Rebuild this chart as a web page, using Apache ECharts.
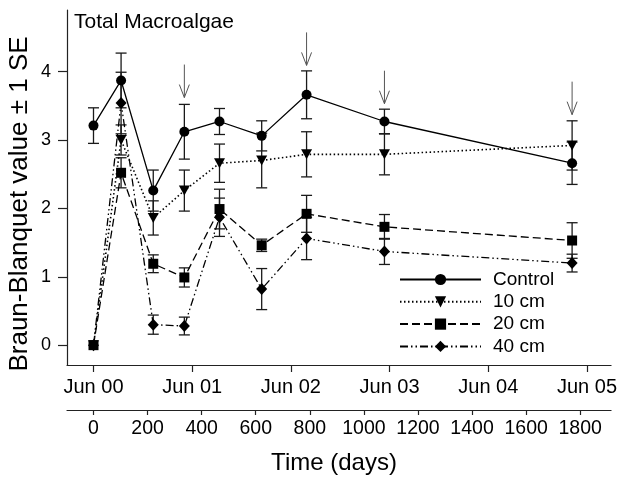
<!DOCTYPE html>
<html>
<head>
<meta charset="utf-8">
<script src="https://cdn.jsdelivr.net/npm/echarts@6/dist/echarts.min.js"></script>
<style>html,body{margin:0;padding:0;background:#fff}#c{width:620px;height:477px}</style>
</head>
<body>
<div id="c"></div>
<script>
// ---- data ----
const days = [0, 102, 221, 336, 466, 622, 788, 1076, 1770];
const seriesNames = ['Control', '10 cm', '20 cm', '40 cm'];
const controlMean = [3.21, 3.87, 2.26, 3.12, 3.27, 3.06, 3.66, 3.27, 2.66];
const controlSE   = [0.26, 0.40, 0.30, 0.40, 0.19, 0.22, 0.35, 0.18, 0.31];
const cm10Mean = [0, 3.00, 1.86, 2.26, 2.66, 2.70, 2.79, 2.79, 2.92];
const cm10SE   = [0, 0.22, 0.25, 0.30, 0.28, 0.40, 0.33, 0.30, 0.36];
const cm20Mean = [0, 2.52, 1.19, 0.99, 1.99, 1.46, 1.92, 1.73, 1.53];
const cm20SE   = [0, 0.22, 0.13, 0.14, 0.29, 0.09, 0.27, 0.18, 0.26];
const cm40Mean = [0, 3.54, 0.30, 0.28, 1.87, 0.82, 1.56, 1.37, 1.20];
const cm40SE   = [0, 0.45, 0.14, 0.13, 0.28, 0.30, 0.31, 0.19, 0.13];
const arrowDays = [336, 788, 1076, 1770];
const arrowTipValue = [3.62, 4.09, 3.53, 3.37];
const junTicks = [0, 365, 730, 1095, 1460, 1825];
const junLabels = ['Jun 00', 'Jun 01', 'Jun 02', 'Jun 03', 'Jun 04', 'Jun 05'];
const dayTicks = [0, 200, 400, 600, 800, 1000, 1200, 1400, 1600, 1800];
const yTicks = [0, 1, 2, 3, 4];

// ---- chart ----
const FONT = "'Liberation Sans', Arial, Helvetica, sans-serif";
const BLACK = '#000';
const chart = echarts.init(document.getElementById('c'), null, {renderer: 'canvas'});

function pairs(m) { return days.map((d, i) => [d, m[i]]); }
function errData(m, s) {
  const out = [];
  days.forEach((d, i) => { if (s[i] > 0) out.push([d, m[i] - s[i], m[i] + s[i]]); });
  return out;
}
function errRender(params, api) {
  const x = api.value(0), lo = api.value(1), hi = api.value(2);
  const p1 = api.coord([x, hi]);
  const p2 = api.coord([x, lo]);
  const hw = 5.5;
  const st = {stroke: '#1a1a1a', lineWidth: 1.3, fill: null};
  return {type: 'group', children: [
    {type: 'line', shape: {x1: p1[0], y1: p1[1], x2: p2[0], y2: p2[1]}, style: st},
    {type: 'line', shape: {x1: p1[0] - hw, y1: p1[1], x2: p1[0] + hw, y2: p1[1]}, style: st},
    {type: 'line', shape: {x1: p2[0] - hw, y1: p2[1], x2: p2[0] + hw, y2: p2[1]}, style: st}
  ]};
}
function arrowRender(params, api) {
  const p = api.coord([api.value(0), api.value(1)]);
  const st = {stroke: '#555', lineWidth: 1, fill: null};
  return {type: 'group', children: [
    {type: 'line', shape: {x1: p[0], y1: p[1] - 33, x2: p[0], y2: p[1]}, style: st},
    {type: 'polyline', shape: {points: [[p[0] - 5, p[1] - 13], [p[0], p[1]], [p[0] + 5, p[1] - 13]]}, style: st}
  ]};
}

const styles = [
  {symbol: 'circle', size: 10, rotate: 0, type: 'solid', width: 1.3},
  {symbol: 'triangle', size: [11, 10], rotate: 180, type: [1.5, 2.5], width: 1.6},
  {symbol: 'rect', size: 10, rotate: 0, type: [8, 4], width: 1.3},
  {symbol: 'diamond', size: [11, 12], rotate: 0, type: [8, 3, 1.5, 3, 1.5, 3], width: 1.3}
];
const means = [controlMean, cm10Mean, cm20Mean, cm40Mean];
const ses = [controlSE, cm10SE, cm20SE, cm40SE];

const series = [];
means.forEach((m, k) => {
  series.push({
    type: 'custom', name: seriesNames[k] + ' SE', renderItem: errRender,
    data: errData(m, ses[k]), z: 1, silent: true,
    encode: {x: 0, y: [1, 2]}
  });
});
means.forEach((m, k) => {
  const s = styles[k];
  series.push({
    type: 'line', name: seriesNames[k], data: pairs(m),
    symbol: s.symbol, symbolSize: s.size, symbolRotate: s.rotate,
    showAllSymbol: true, z: 3,
    lineStyle: {color: BLACK, width: s.width, type: s.type},
    itemStyle: {color: BLACK, borderWidth: 0},
    emphasis: {disabled: true}, animation: false
  });
});
series.push({
  type: 'custom', name: 'arrows', renderItem: arrowRender, z: 4, silent: true,
  data: arrowDays.map((d, i) => [d, arrowTipValue[i]])
});

const axisCommon = {
  type: 'value', min: -98, max: 1914, position: 'bottom',
  splitLine: {show: false},
  axisLine: {show: true, onZero: false, lineStyle: {color: '#222', width: 1.2}}
};

chart.setOption({
  animation: false,
  backgroundColor: '#fff',
  textStyle: {fontFamily: FONT},
  grid: {left: 67, right: 3, top: 10, bottom: 112, containLabel: false},
  xAxis: [
    Object.assign({}, axisCommon, {
      axisTick: {show: true, customValues: junTicks, length: 7, lineStyle: {color: '#222', width: 1.2}},
      axisLabel: {customValues: junTicks, fontSize: 20, margin: 12, color: BLACK, fontFamily: FONT,
        formatter: v => junLabels[junTicks.indexOf(v)] || ''}
    }),
    Object.assign({}, axisCommon, {
      offset: 45,
      axisTick: {show: true, customValues: dayTicks, length: 5, lineStyle: {color: '#222', width: 1.2}},
      axisLabel: {customValues: dayTicks, fontSize: 19.5, margin: 9, color: BLACK, fontFamily: FONT,
        formatter: v => String(v)}
    })
  ],
  yAxis: {
    type: 'value', min: -0.29, max: 4.9,
    splitLine: {show: false},
    axisLine: {show: true, onZero: false, lineStyle: {color: '#222', width: 1.2}},
    axisTick: {show: true, customValues: yTicks, length: 9, lineStyle: {color: '#222', width: 1.2}},
    axisLabel: {customValues: yTicks, fontSize: 18, margin: 16, color: BLACK, fontFamily: FONT,
      formatter: v => String(v)}
  },
  legend: {
    data: seriesNames, orient: 'vertical', left: 399, top: 270, padding: 0,
    itemWidth: 81, itemHeight: 14, itemGap: 3.3,
    textStyle: {fontSize: 19, lineHeight: 19, color: BLACK, fontFamily: FONT, padding: [0, 0, 0, 7]},
    selectedMode: false
  },
  graphic: [
    {type: 'text', x: 74, y: 22, silent: true,
      style: {text: 'Total Macroalgae', font: '21px ' + FONT, fill: BLACK,
        align: 'left', verticalAlign: 'middle', textAlign: 'left', textVerticalAlign: 'middle'}},
    {type: 'text', x: 20, y: 204, rotation: Math.PI / 2, silent: true,
      style: {text: 'Braun-Blanquet value \u00b1 1 SE', font: '26px ' + FONT, fill: BLACK,
        align: 'center', verticalAlign: 'middle', textAlign: 'center', textVerticalAlign: 'middle'}},
    {type: 'text', x: 334, y: 463, silent: true,
      style: {text: 'Time (days)', font: '24px ' + FONT, fill: BLACK,
        align: 'center', verticalAlign: 'middle', textAlign: 'center', textVerticalAlign: 'middle'}}
  ],
  series: series
});
</script>
</body>
</html>
